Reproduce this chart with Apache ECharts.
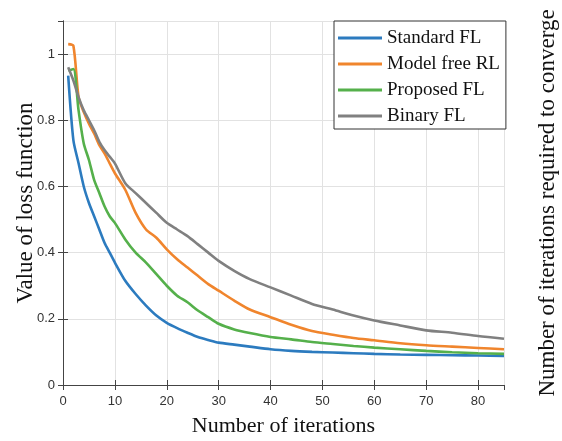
<!DOCTYPE html>
<html>
<head>
<meta charset="utf-8">
<script src="https://cdn.jsdelivr.net/npm/echarts@6/dist/echarts.min.js"></script>
<style>
  html, body { margin: 0; padding: 0; background: #fff; }
  #chart { width: 562px; height: 441px; }
</style>
</head>
<body>
<div id="chart"></div>
<script>
// iteration index at which each value was read
var iterations = [1, 2, 3, 4, 5, 6, 7, 8, 9, 10, 12, 14, 16, 18, 20, 22, 24, 26, 28, 30, 33, 36, 40, 44, 48, 52, 56, 60, 65, 70, 75, 80, 85];

var standardFL = [0.935, 0.74, 0.67, 0.60, 0.55, 0.51, 0.47, 0.43, 0.40, 0.37, 0.315, 0.275, 0.24, 0.21, 0.188, 0.172, 0.158, 0.145, 0.136, 0.128, 0.122, 0.116, 0.108, 0.103, 0.100, 0.098, 0.096, 0.094, 0.092, 0.091, 0.090, 0.089, 0.088];
var modelFreeRL = [1.03, 1.025, 0.87, 0.825, 0.79, 0.76, 0.725, 0.70, 0.67, 0.64, 0.59, 0.52, 0.47, 0.445, 0.41, 0.38, 0.355, 0.33, 0.305, 0.285, 0.255, 0.228, 0.205, 0.182, 0.163, 0.152, 0.142, 0.135, 0.126, 0.120, 0.116, 0.112, 0.108];
var proposedFL = [0.95, 0.955, 0.83, 0.73, 0.68, 0.62, 0.58, 0.54, 0.51, 0.49, 0.44, 0.40, 0.37, 0.335, 0.30, 0.27, 0.25, 0.225, 0.205, 0.185, 0.168, 0.157, 0.145, 0.138, 0.130, 0.124, 0.118, 0.113, 0.108, 0.103, 0.099, 0.096, 0.094];
var binaryFL = [0.96, 0.92, 0.87, 0.83, 0.80, 0.77, 0.735, 0.71, 0.69, 0.67, 0.61, 0.58, 0.55, 0.52, 0.49, 0.47, 0.45, 0.425, 0.40, 0.375, 0.345, 0.32, 0.295, 0.27, 0.245, 0.228, 0.21, 0.195, 0.18, 0.165, 0.158, 0.148, 0.14];

var seriesNames = ['Standard FL', 'Model free RL', 'Proposed FL', 'Binary FL'];
var seriesColors = ['#2c7bbf', '#f0852d', '#55b04b', '#808080'];
var seriesValues = [standardFL, modelFreeRL, proposedFL, binaryFL];

function pairs(vals) {
    return iterations.map(function (x, i) { return [x, vals[i]]; });
}

var chart = echarts.init(document.getElementById('chart'));
var serifFont = '"Liberation Serif", "DejaVu Serif", serif';
var sansFont = '"Liberation Sans", Arial, sans-serif';
var boxLine = { show: true, lineStyle: { color: '#444', width: 1 } };
var tickIn = { show: true, inside: true, length: 5, lineStyle: { color: '#444' } };

var option = {
    animation: false,
    backgroundColor: '#fff',
    grid: { left: 63, right: 58, top: 21, bottom: 56, outerBoundsMode: 'none' },
    legend: {
        orient: 'vertical',
        left: 334,
        top: 21,
        padding: [7, 6, 3, 4],
        icon: 'rect',
        itemWidth: 44,
        itemHeight: 3,
        itemGap: 6,
        backgroundColor: '#fff',
        borderColor: '#333',
        borderWidth: 1,
        textStyle: { fontFamily: serifFont, fontSize: 19, color: '#111', lineHeight: 20 },
        data: seriesNames
    },
    xAxis: [{
        type: 'value',
        min: 0, max: 85, interval: 10,
        name: 'Number of iterations',
        nameLocation: 'middle',
        nameGap: 30,
        nameTextStyle: { fontFamily: serifFont, fontSize: 22, color: '#111' },
        axisLine: boxLine,
        axisTick: tickIn,
        axisLabel: { fontFamily: sansFont, fontSize: 13, color: '#333', margin: 10, showMaxLabel: false },
        splitLine: { show: true, lineStyle: { color: '#e2e2e2' } }
    }, {
        type: 'value',
        position: 'top',
        min: 0, max: 85, interval: 10,
        axisLine: boxLine,
        axisTick: tickIn,
        axisLabel: { show: false },
        splitLine: { show: false }
    }],
    yAxis: [{
        type: 'value',
        min: 0, max: 1.1, interval: 0.2,
        name: 'Value of loss function',
        nameLocation: 'middle',
        nameGap: 26,
        nameMoveOverlap: false,
        nameRotate: 90,
        nameTextStyle: { fontFamily: serifFont, fontSize: 23, color: '#111' },
        axisLine: boxLine,
        axisTick: tickIn,
        axisLabel: { fontFamily: sansFont, fontSize: 13, color: '#333', margin: 8, showMaxLabel: false },
        splitLine: { show: true, lineStyle: { color: '#e2e2e2' } }
    }, {
        type: 'value',
        position: 'right',
        min: 0, max: 1.1, interval: 0.2,
        name: 'Number of iterations required to converge',
        nameLocation: 'middle',
        nameGap: 32,
        nameRotate: 90,
        nameTextStyle: { fontFamily: serifFont, fontSize: 23, color: '#111' },
        axisLine: boxLine,
        axisTick: tickIn,
        axisLabel: { show: false },
        splitLine: { show: false }
    }],
    series: seriesNames.map(function (name, i) {
        return {
            name: name,
            type: 'line',
            symbol: 'none',
            smooth: 0.25,
            color: seriesColors[i],
            lineStyle: { width: 2.6, color: seriesColors[i] },
            data: pairs(seriesValues[i])
        };
    })
};
chart.setOption(option);
window.addEventListener('resize', function () {
    chart.resize();
});
</script>
</body>
</html>
